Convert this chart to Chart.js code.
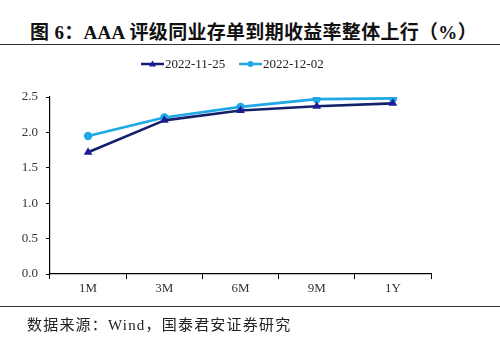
<!DOCTYPE html>
<html>
<head>
<meta charset="utf-8">
<script src="https://cdn.jsdelivr.net/npm/chart.js@4.4.0/dist/chart.umd.min.js"></script>
<style>
  html, body { margin: 0; padding: 0; background: #fff; }
  #wrap { position: relative; width: 500px; height: 358px; overflow: hidden; }
  #c { position: absolute; left: 0; top: 0; }
  .title { position: absolute; left: 0; top: 17px; width: 507px; text-align: center;
    font-family: "Liberation Serif", "Noto Sans CJK SC", serif; font-weight: bold; font-size: 19px; letter-spacing: 0.3px; color: #111; white-space: nowrap; }
  .rule { position: absolute; left: 0; width: 500px; height: 0; border-top: 1.5px solid #333; }
  .source { position: absolute; left: 27px; top: 313px; font-family: "Liberation Serif", "Noto Sans CJK SC", serif;
    font-size: 15px; letter-spacing: 1.2px; color: #222; white-space: nowrap; }
</style>
</head>
<body>
<div id="wrap">
  <div class="title">图 6：AAA 评级同业存单到期收益率整体上行（%）</div>
  <div class="rule" style="top:44px"></div>
  <canvas id="c" width="500" height="358"></canvas>
  <div class="rule" style="top:306px"></div>
  <div class="source">数据来源：Wind，国泰君安证券研究</div>
</div>
<script>
const categories = ["1M", "3M", "6M", "9M", "1Y"];
const seriesNames = ["2022-11-25", "2022-12-02"];
const values1125 = [1.72, 2.17, 2.31, 2.37, 2.41];
const values1202 = [1.95, 2.21, 2.36, 2.47, 2.48];
const yTicks = [0, 0.5, 1.0, 1.5, 2.0, 2.5];

const serif = "'Liberation Serif', 'Times New Roman', serif";

const legendPlugin = {
  id: 'excelLegend',
  afterDraw(chart) {
    const ctx = chart.ctx;
    const starts = [141, 239];
    const y = 64;
    ctx.save();
    ctx.font = "13px " + serif;
    ctx.textBaseline = 'middle';
    chart.data.datasets.forEach((ds, i) => {
      const x0 = starts[i], x1 = x0 + 23, cx = (x0 + x1) / 2;
      ctx.strokeStyle = ds.borderColor;
      ctx.lineWidth = 2.5;
      ctx.beginPath(); ctx.moveTo(x0, y); ctx.lineTo(x1, y); ctx.stroke();
      ctx.fillStyle = ds.pointBackgroundColor;
      ctx.beginPath();
      if (ds.pointStyle === 'circle') { ctx.arc(cx, y, 3, 0, Math.PI * 2); }
      else { ctx.moveTo(cx, y - 3.5); ctx.lineTo(cx + 3.5, y + 2.5); ctx.lineTo(cx - 3.5, y + 2.5); ctx.closePath(); }
      ctx.fill();
      ctx.fillStyle = '#222';
      ctx.fillText(ds.label, x1 + 1, y + 1);
    });
    ctx.restore();
  }
};

new Chart(document.getElementById('c'), {
  type: 'line',
  data: {
    labels: categories,
    datasets: [
      {
        label: seriesNames[0], data: values1125,
        borderColor: '#14206b', borderWidth: 2.6,
        pointStyle: 'triangle', pointRadius: 5, borderJoinStyle: 'round',
        pointBackgroundColor: '#1c1c94', pointBorderColor: '#1c1c94', pointBorderWidth: 0,
        tension: 0
      },
      {
        label: seriesNames[1], data: values1202,
        borderColor: '#1fa8e6', borderWidth: 2.6,
        pointStyle: 'circle', pointRadius: 4.2, borderJoinStyle: 'round',
        pointBackgroundColor: '#1fa8e6', pointBorderColor: '#1fa8e6', pointBorderWidth: 0,
        tension: 0
      }
    ]
  },
  options: {
    responsive: false,
    animation: false,
    devicePixelRatio: 1,
    layout: { padding: { left: 0, right: 69, top: 97, bottom: 54 } },
    plugins: { legend: { display: false }, tooltip: { enabled: false }, title: { display: false } },
    scales: {
      x: {
        type: 'category', offset: true,
        afterFit(scale) { scale.height = 30; },
        grid: { display: true, drawOnChartArea: false, drawTicks: true, tickLength: 5, color: '#000', offset: true },
        border: { display: true, color: '#000', width: 1.2 },
        ticks: { color: '#333', font: { family: serif, size: 13 }, padding: 2, maxRotation: 0 }
      },
      y: {
        min: 0, max: 2.5,
        afterFit(scale) { scale.width = 50; },
        afterBuildTicks(scale) { scale.ticks = yTicks.map(v => ({ value: v })); },
        grid: { display: true, drawOnChartArea: false, drawTicks: true, tickLength: 4, color: '#000' },
        border: { display: true, color: '#000', width: 1.2 },
        ticks: { color: '#333', font: { family: serif, size: 13 }, padding: 8,
          callback: v => Number(v).toFixed(1) }
      }
    }
  },
  plugins: [legendPlugin]
});
</script>
</body>
</html>
